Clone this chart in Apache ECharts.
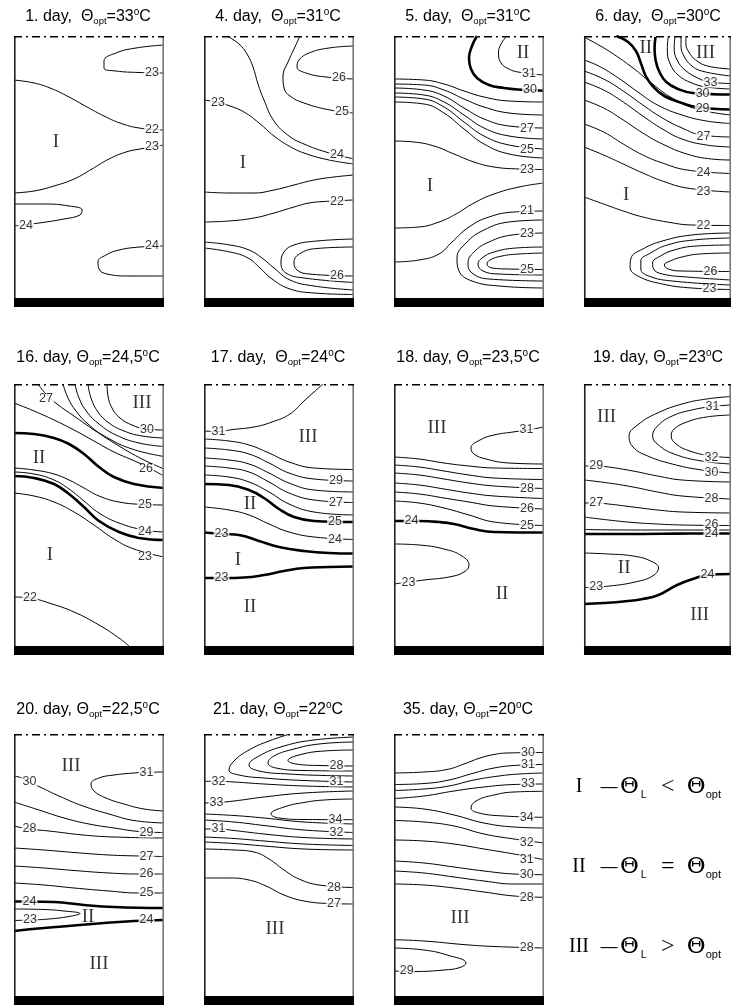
<!DOCTYPE html>
<html><head><meta charset="utf-8">
<script src="https://cdn.jsdelivr.net/npm/echarts@6/dist/echarts.min.js"></script>
<style>html,body{margin:0;padding:0;background:#fff}#c{width:731px;height:1006px}</style>
</head><body><div id="c"></div>
<script>
// ---------- data (panel coords: x 0..150 left->right, y 0..262 top->bottom) ----------
const panelDays = ['1','4','5','6','16','17','18','19','20','21','35'];
const panelOpt  = ['33','31','31','30','24,5','24','23,5','23','22,5','22','20'];
const titleGap  = ['  ','  ','  ','  ',' ','  ',' ',' ',' ',' ',' '];

// Day 1
const d1Thin = [
 [[150,9],[122,12],[102,17],[90,25],[90,32],[102,35],[125,36.5],[150,37]],
 [[0,44],[20,47],[36,52],[55,61],[73,71],[90,80],[106,87],[125,92],[150,94]],
 [[0,157],[20,155],[40,150],[60,143],[78,133],[95,123],[112,116],[126,113],[150,109]],
 [[0,168],[30,168],[55,170],[68,174],[66,179],[50,183],[25,187],[0,190]],
 [[150,210],[126,211],[105,214],[92,219],[84,226],[85,233],[93,238],[115,240],[150,240]]
];
const d1Thick = [];
const d1Labels = [[138,37,'23'],[138,93.5,'22'],[138,111,'23'],[12,189.5,'24'],[138,210,'24']];
const d1Zones = [[42,106,'I']];

// Day 4
const d4Thin = [
 [[96,0],[90,13],[84,26],[79,40],[80,52],[86,60],[100,67],[126,74],[150,77]],
 [[150,10],[125,12],[105,17],[95,24],[93,31],[102,37],[122,41],[150,43]],
 [[23,0],[35,8],[43,18],[49,31],[54,48],[60,64],[70,85],[85,100],[100,108],[122,116],[150,123]],
 [[0,64],[12,66],[26,70],[40,76],[55,87],[70,100],[85,110],[100,117],[125,124],[150,128]],
 [[0,156],[25,157],[50,157],[70,154],[90,149],[110,144],[130,141],[150,139]],
 [[0,186],[25,185],[50,182],[70,177],[90,171],[105,167],[120,165.5],[150,164]],
 [[0,206],[26,209],[45,214],[58,222],[70,232],[86,244],[110,250],[150,254]],
 [[0,212],[26,216],[44,222],[56,232],[68,243],[86,253],[110,257],[150,258.5]],
 [[150,203],[113,205],[90,209],[80,216],[77,227],[82,237],[100,242],[150,246.5]],
 [[150,211],[113,212.5],[97,217],[90,226],[93,234],[105,238],[150,240]]
];
const d4Thick = [];
const d4Labels = [[138,76,'25'],[135,42,'26'],[133,118.5,'24'],[14,66.5,'23'],[133,165.5,'22'],[133,239.5,'26']];
const d4Zones = [[39,127,'I']];

// Day 5
const d5Thin = [
 [[113,0],[107,8],[104.5,17],[107,27],[115,33],[124,36],[150,39]],
 [[0,43],[30,44],[50,48],[70,55],[90,61],[115,65],[150,66]],
 [[0,48],[30,49],[50,54],[70,63],[90,71],[115,77],[150,79]],
 [[0,52],[30,54],[50,60],[70,72],[90,83],[115,90],[150,92]],
 [[0,57],[30,59],[50,66],[70,79],[90,92],[115,100],[150,103]],
 [[0,61],[30,63],[50,71],[70,86],[90,100],[115,109],[150,113]],
 [[0,66],[30,68],[50,77],[70,93],[90,108],[115,118],[150,122]],
 [[0,105],[20,106],[40,110],[60,118],[80,126],[100,131],[125,133],[150,133.5]],
 [[0,192],[25,191],[45,186],[62,178],[80,167],[100,158],[125,151],[150,147]],
 [[0,226],[25,224],[45,218],[58,206],[75,191],[95,181],[120,176],[150,175]],
 [[150,184],[115,186],[90,194],[72,207],[63,222],[65,235],[78,245],[105,250],[150,252]],
 [[150,197],[118,199],[95,206],[80,216],[74,227],[78,237],[95,243],[150,245]],
 [[150,211],[122,212],[100,216],[88,222],[84,228],[89,235],[105,238],[150,239]],
 [[150,217],[125,218],[108,220],[96,224],[93,228],[98,232],[115,233],[150,233.5]]
];
const d5Thick = [
 [[83,0],[78,10],[75,22],[77,33],[83,42],[95,49],[110,52],[124,53.5],[150,54.7]]
];
const d5Labels = [[136,54,'30'],[135,38,'31'],[133,92.5,'27'],[133,113.5,'25'],[133,133.5,'23'],[133,175,'21'],[133,198,'23'],[133,233.5,'25']];
const d5Zones = [[129,17,'II'],[36,150,'I']];

// Day 6
const d6Thin = [
 [[86,0],[85,14],[88,28],[96,39],[110,47],[125,51],[150,53]],
 [[93,0],[92,12],[95,24],[103,34],[116,42],[128,46],[150,47.5]],
 [[99,0],[99,10],[102,20],[109,29],[120,35],[150,40]],
 [[104,0],[104,8],[107,16],[114,24],[126,30],[150,33]],
 [[0,1],[15,9],[30,18],[50,32],[70,48],[90,62],[115,73],[150,79]],
 [[0,24],[15,30],[35,42],[55,56],[75,69],[100,79],[125,85],[150,87.5]],
 [[0,35],[20,43],[40,55],[60,69],[80,82],[100,92],[120,99],[150,101]],
 [[0,46],[20,54],[40,66],[60,80],[80,93],[100,103],[125,109],[150,111]],
 [[0,64],[20,72],[40,84],[60,97],[80,108],[105,118],[130,123],[150,124]],
 [[0,88],[20,96],[40,108],[60,119],[80,127],[105,134],[150,137.5]],
 [[0,111],[20,119],[40,128],[60,137],[80,145],[105,152],[150,156]],
 [[0,161],[20,168],[40,175],[60,181],[85,186],[110,189],[150,189.5]],
 [[150,197],[110,199],[80,205],[60,213],[48,222],[47,231],[55,240],[80,248],[110,252],[150,253.5]],
 [[150,202],[112,204],[85,209],[68,217],[58,225],[58,233],[66,240],[90,245],[150,249]],
 [[150,209],[115,210],[92,214],[78,220],[70,227],[71,233],[80,238],[105,241],[150,244]],
 [[150,217],[118,218],[100,221],[88,225],[82,229],[86,233],[100,235],[150,235.5]]
];
const d6Thick = [
 [[33,0],[45,6],[53,15],[58,27],[63,40],[70,50],[82,60],[100,67],[115,71],[150,73.5]],
 [[73,1],[72,12],[73,24],[77,36],[84,46],[96,53],[111,57],[150,58.5]]
];
const d6Labels = [[129,46.5,'33'],[121,58,'30'],[121,72.5,'29'],[122,100.5,'27'],[122,137,'24'],[122,155.5,'23'],[122,189.5,'22'],[129,235.5,'26'],[128,253,'23']];
const d6Zones = [[63,12,'II'],[124,17,'III'],[43,159,'I']];

// Day 16
const d16Thin = [
 [[93,0],[94,12],[98,24],[106,34],[118,41],[132,45],[150,46]],
 [[74,0],[77,14],[84,28],[95,39],[110,47],[128,52],[150,54]],
 [[61,0],[65,14],[73,28],[85,40],[102,51],[125,59],[150,62.5]],
 [[49,0],[54,14],[62,27],[74,40],[92,53],[118,65],[150,72.5]],
 [[24,0],[32,10],[43,20],[60,32],[80,46],[105,62],[128,75],[150,85]],
 [[0,19],[20,27],[40,36],[60,46],[80,57],[100,68],[125,79],[150,92]],
 [[0,84],[20,86],[40,90],[55,96],[70,104],[85,112],[105,118],[130,120.5],[150,121]],
 [[0,88],[20,90],[40,96],[55,105],[70,117],[85,129],[105,139],[130,146],[150,148]],
 [[0,109],[20,112],[40,118],[60,128],[80,141],[100,155],[120,165],[150,173]],
 [[0,213],[16,214],[35,219],[60,228],[85,241],[105,254],[115,262]]
];
const d16Thick = [
 [[0,49],[20,50],[40,54],[55,60],[70,70],[85,83],[100,93],[120,100],[150,104]],
 [[0,92],[20,94],[40,100],[55,110],[70,123],[85,137],[105,148],[125,154],[150,156]]
];
const d16Labels = [[32,15,'27'],[133,45.5,'30'],[132,85,'26'],[131,120.5,'25'],[131,147.5,'24'],[131,172.5,'23'],[16,214,'22']];
const d16Zones = [[128,19,'III'],[25,74,'II'],[36,171,'I']];

// Day 17
const d17Thin = [
 [[0,47],[14,47.5],[29,45.5],[50,43],[68,38],[86,30],[100,17],[110,8],[119,0]],
 [[0,55],[25,57],[45,61],[65,69],[85,78],[110,84],[150,85.5]],
 [[0,64],[25,66],[45,70],[65,79],[85,89],[110,95],[150,97]],
 [[0,74],[25,76],[45,80],[65,89],[85,99],[110,106],[150,108]],
 [[0,82],[25,84],[45,88],[65,98],[85,109],[110,116],[150,118.5]],
 [[0,91],[25,93],[45,98],[65,108],[85,120],[110,128],[150,131]],
 [[0,123],[25,126],[45,131],[65,140],[85,148],[110,153],[150,155.5]]
];
const d17Thick = [
 [[0,100],[25,101],[45,106],[60,114],[75,125],[90,133],[110,137],[150,138]],
 [[0,148.5],[20,150],[35,151],[55,157],[75,163],[100,167],[125,169],[150,169.5]],
 [[0,194],[20,194],[40,193.5],[60,191],[80,187],[100,184],[125,183],[150,182.5]]
];
const d17Labels = [[14.5,47.5,'31'],[132,97,'29'],[132,118.5,'27'],[131,137.5,'25'],[131,155.5,'24'],[17.5,149.5,'23'],[17.5,194,'23']];
const d17Zones = [[104,53,'III'],[46,120,'II'],[34,176,'I'],[46,223,'II']];

// Day 18
const d18Thin = [
 [[150,43],[133,46],[119,48],[100,51],[86,56],[77,64],[80,70],[92,75],[115,79],[150,80]],
 [[0,73],[25,75],[50,79],[75,82],[100,84],[150,84.5]],
 [[0,81],[25,83],[50,87],[75,91],[100,94],[150,95.5]],
 [[0,89],[25,91],[50,95],[75,99],[100,102],[150,104.5]],
 [[0,99],[25,101],[50,105],[75,109],[100,112],[150,114.5]],
 [[0,108],[25,110],[50,114],[75,118],[100,122],[150,125]],
 [[0,117],[25,119],[50,124],[75,131],[100,138],[150,141.5]],
 [[0,160],[25,161],[50,165],[68,172],[75,181],[70,188],[55,193],[30,196],[0,200]]
];
const d18Thick = [
 [[0,137],[25,137],[45,138],[60,140],[80,145],[100,148],[150,148.5]]
];
const d18Labels = [[132.5,46,'31'],[133,104.5,'28'],[133,125,'26'],[133,141.5,'25'],[17.5,137,'24'],[14.5,199,'23']];
const d18Zones = [[43,44,'III'],[108,210,'II']];

// Day 19
const d19Thin = [
 [[150,12.5],[125,15],[100,20],[75,29],[56,40],[46,52],[50,63],[65,72],[90,80],[120,86],[150,89]],
 [[150,21],[131,22.5],[110,26],[90,32],[75,42],[70,52],[76,61],[92,70],[120,77],[150,80]],
 [[150,31],[125,33],[105,38],[92,45],[89,52],[94,60],[108,67],[130,72],[150,73.5]],
 [[0,82],[12,82],[25,83],[50,87],[75,92],[100,96],[150,98]],
 [[0,96],[25,99],[50,103],[75,108],[100,112],[150,115]],
 [[0,119],[12,119],[25,120],[50,123],[75,126],[100,128],[150,129]],
 [[0,133],[25,136],[50,138.5],[75,140],[100,141],[150,141.5]],
 [[0,145.5],[50,146],[100,146],[150,146]],
 [[0,169],[25,170],[50,172],[68,177],[76,184],[70,192],[52,198],[26,202],[0,203.5]]
];
const d19Thick = [
 [[0,150],[40,150],[80,149.8],[110,149.5],[150,149.5]],
 [[0,220],[20,219],[40,217.5],[60,215],[76,211],[95,201],[114,194],[126,191],[150,190]]
];
const d19Labels = [[131,22.5,'31'],[130,73.5,'32'],[130,89,'30'],[12.5,82,'29'],[130,114.5,'28'],[12.5,119,'27'],[130,141,'26'],[130,150,'24'],[12.5,203,'23'],[126,191,'24']];
const d19Zones = [[23,33,'III'],[41,184,'II'],[118,231,'III']];

// Day 20
const d20Thin = [
 [[150,38],[134,38.3],[120,39],[100,41],[85,44],[77,50],[80,57],[92,64],[110,70],[130,75],[150,77]],
 [[0,42],[8,44],[15,48],[26,53],[45,62],[69,72],[95,80],[120,86.5],[150,89]],
 [[0,68],[25,76],[50,84],[75,90],[100,94],[125,97.5],[150,98.5]],
 [[0,92],[15,95],[35,97],[69,101],[100,103],[150,104]],
 [[0,114],[30,116],[60,118.5],[95,121],[125,122],[150,122.5]],
 [[0,132],[30,134],[60,136.5],[95,139],[125,140],[150,140]],
 [[0,149],[30,151],[60,154],[95,157],[125,159],[150,159]],
 [[0,175],[30,175.5],[50,177],[66,179.5],[55,182.5],[35,185],[16,186],[0,186.5]]
];
const d20Thick = [
 [[0,167.5],[15,167.5],[40,168],[70,171],[100,173],[150,174]],
 [[0,197],[30,194],[60,191.5],[90,189],[120,187],[150,186]]
];
const d20Labels = [[15.5,48,'30'],[132.5,38.3,'31'],[132.5,98.5,'29'],[15.5,95,'28'],[132.5,122.5,'27'],[132.5,140,'26'],[132.5,159,'25'],[15.5,167.5,'24'],[16,186,'23'],[132.5,186,'24']];
const d20Zones = [[57,32,'III'],[74,183,'II'],[85,230,'III']];

// Day 21
const d21Thin = [
 [[86,0],[65,7],[45,16],[30,27],[25,36],[35,41],[60,44],[100,46.5],[150,48]],
 [[150,3],[110,6],[80,12],[55,22],[45,31],[55,37],[85,40],[120,41.5],[150,42]],
 [[150,8],[115,10],[90,15],[70,22],[64,29],[72,34],[100,36.5],[150,37]],
 [[150,16],[120,17],[95,21],[84,26.5],[92,30],[115,31.5],[150,32]],
 [[0,47.3],[14,47.3],[30,48],[60,50],[100,52],[150,53]],
 [[0,69],[14,68.5],[30,67],[60,63],[100,59],[150,57]],
 [[150,65],[120,66],[100,68.5],[80,73],[67,80],[75,84],[100,85.5],[150,85.7]],
 [[0,80],[30,81.5],[60,84],[100,88],[150,90]],
 [[0,86],[30,88],[60,91.5],[100,96],[150,98.5]],
 [[0,95],[14,95],[30,96.5],[60,100],[100,103.5],[150,105]],
 [[0,103],[30,104.5],[60,107],[100,110],[150,111.5]],
 [[0,108],[30,109.5],[60,112],[100,115],[150,116]],
 [[0,115],[30,116],[50,118],[65,125],[80,136],[95,145],[115,151],[150,153.5]],
 [[0,144],[25,144],[45,146],[62,152],[80,161],[100,167],[125,169.5],[150,170]]
];
const d21Thick = [];
const d21Labels = [[132.5,31.5,'28'],[132.5,47.5,'31'],[14.5,47.3,'32'],[12.5,69,'33'],[131.5,85.7,'34'],[132.5,98.5,'32'],[14.5,95,'31'],[130,153.5,'28'],[130,170,'27']];
const d21Zones = [[71,195,'III']];

// Day 35
const d35Thin = [
 [[0,39],[30,38],[53,35.5],[70,30],[86,24],[100,20.5],[113,19],[150,18.5]],
 [[0,50.5],[30,49.5],[55,46],[80,39],[100,34],[120,31.5],[150,30.5]],
 [[0,56.5],[30,55],[55,52],[80,46],[105,42],[125,40],[150,39]],
 [[0,64.5],[30,62],[60,57],[90,53],[120,50.5],[150,50]],
 [[150,57.3],[120,58],[100,61],[82,67],[77,74],[85,79],[110,82],[150,83.3]],
 [[0,73],[30,75],[60,81],[90,89],[120,93],[150,94]],
 [[0,86.5],[30,88],[60,92],[90,100],[120,105],[150,109]],
 [[0,106],[30,107],[60,110],[90,115],[120,120],[150,125.7]],
 [[0,127],[30,129],[60,133],[90,137],[120,140],[150,140.7]],
 [[0,137],[30,139],[60,143],[90,147],[120,150],[150,150]],
 [[0,150],[30,151],[60,154],[90,158],[120,162],[150,163.3]],
 [[0,205.7],[30,207],[69,210.5],[100,212.5],[150,214]],
 [[0,214],[30,216],[53,221],[72,229],[66,233.5],[50,236],[20,237.5],[0,237]]
];
const d35Thick = [];
const d35Labels = [[134,18.5,'30'],[134,30.5,'31'],[134,50,'33'],[132.7,83.3,'34'],[132.7,109,'32'],[132.7,125.7,'31'],[132.7,140.7,'30'],[132.7,163.3,'28'],[132.7,214,'28'],[12.7,237,'29']];
const d35Zones = [[66,184,'III']];

const zoneLegend = [['I','<'],['II','='],['III','>']];

// ---------- layout ----------
const panelLeft = [14,204,394,584,14,204,394,584,14,204,394];
const panelTop  = [36,36,36,36,384,384,384,384,734,734,734];
const titleY    = [17,17,17,17,358,358,358,358,710,710,710];
const PW = 150, PH = 262, BAR = 9;

const panels = [
 [d1Thin,d1Thick,d1Labels,d1Zones],[d4Thin,d4Thick,d4Labels,d4Zones],
 [d5Thin,d5Thick,d5Labels,d5Zones],[d6Thin,d6Thick,d6Labels,d6Zones],
 [d16Thin,d16Thick,d16Labels,d16Zones],[d17Thin,d17Thick,d17Labels,d17Zones],
 [d18Thin,d18Thick,d18Labels,d18Zones],[d19Thin,d19Thick,d19Labels,d19Zones],
 [d20Thin,d20Thick,d20Labels,d20Zones],[d21Thin,d21Thick,d21Labels,d21Zones],
 [d35Thin,d35Thick,d35Labels,d35Zones]
];

const SANS = 'Liberation Sans, Arial, sans-serif';
const SERIF = 'Liberation Serif, Times New Roman, serif';
const grid=[], xAxis=[], yAxis=[], series=[], graphic=[];

panels.forEach((p,i)=>{
  const [thin,thick,labels,zones] = p;
  grid.push({left:panelLeft[i], top:panelTop[i], width:PW, height:PH+BAR});
  xAxis.push({type:'value', gridIndex:i, min:0, max:PW, show:false});
  yAxis.push({type:'value', gridIndex:i, min:0, max:PH+BAR, inverse:true, show:false});
  const base = {xAxisIndex:i, yAxisIndex:i, silent:true, animation:false};
  const line = (data,w,color,type,smooth,z)=>({type:'line',...base,data,symbol:'none',showSymbol:false,smooth,
     lineStyle:{color,width:w,type,cap:'butt'},z:z||2});
  thin.forEach(c=>series.push(line(c,1,'#000','solid',0.45)));
  thick.forEach(c=>series.push(line(c,2.6,'#000','solid',0.45)));
  series.push(line([[0,PH+BAR/2],[PW,PH+BAR/2]],BAR,'#000','solid',false,3));
  series.push(line([[0.8,0],[0.8,PH]],1.6,'#222','solid',false,3));
  series.push(line([[PW-0.8,0],[PW-0.8,PH]],1.6,'#777','solid',false,3));
  series.push(line([[0,0.8],[PW,0.8]],1.6,'#000',[8,4,2,4],false,3));
  series.push({type:'scatter',...base,symbol:'circle',symbolSize:1,itemStyle:{color:'rgba(0,0,0,0)'},z:6,
    data:labels.map(l=>({value:[l[0],l[1]],name:l[2]})),
    label:{show:true,position:'inside',formatter:'{b}',fontFamily:SANS,fontSize:12.5,color:'#000',
      backgroundColor:'#fff',padding:[0,1,0,1],lineHeight:10}});
  series.push({type:'scatter',...base,symbol:'circle',symbolSize:1,itemStyle:{color:'rgba(0,0,0,0)'},z:6,
    data:zones.map(l=>({value:[l[0],l[1]],name:l[2]})),
    label:{show:true,position:'inside',formatter:'{b}',fontFamily:SERIF,fontSize:19,color:'#000'}});
  // title
  graphic.push({type:'text', x:panelLeft[i]+PW/2-1, y:titleY[i], silent:true,
    style:{text:'{t|'+panelDays[i]+'. day,'+titleGap[i]+'Θ}{s|opt}{t|='+panelOpt[i]+'}{p|o}{t|C}',
      align:'center', verticalAlign:'middle', fill:'#000',
      rich:{t:{fontFamily:SANS,fontSize:16,lineHeight:19,fill:'#000'},
            s:{fontFamily:SANS,fontSize:9.5,lineHeight:10,verticalAlign:'bottom',fill:'#000'},
            p:{fontFamily:SANS,fontSize:10,lineHeight:10,verticalAlign:'top',fill:'#000'}}}});
});

const legendY = [787, 867, 947];
zoneLegend.forEach((z,k)=>{
  graphic.push({type:'text', x:560, y:legendY[k], silent:true,
    style:{text:'{r|'+z[0]+'}{d|—}{th|Θ}{s|L}{op|'+z[1]+'}{th|Θ}{s2|opt}',
      align:'left', verticalAlign:'middle', fill:'#000',
      rich:{r:{fontFamily:SERIF,fontSize:20,lineHeight:26,width:38,align:'right',fill:'#000'},
            d:{fontFamily:SANS,fontSize:17,lineHeight:26,width:22,align:'center',fill:'#000'},
            th:{fontFamily:'DejaVu Serif',fontSize:23,lineHeight:26,fill:'#000'},
            s:{fontFamily:SANS,fontSize:11,lineHeight:12,width:10,verticalAlign:'bottom',fill:'#000'},
            op:{fontFamily:SERIF,fontSize:24,lineHeight:26,width:38,align:'center',fill:'#000'},
            s2:{fontFamily:SANS,fontSize:11,lineHeight:12,verticalAlign:'bottom',fill:'#000'}}}});
});

const chart = echarts.init(document.getElementById('c'), null, {renderer:'canvas'});
chart.setOption({backgroundColor:'#fff', animation:false, grid, xAxis, yAxis, series, graphic});
</script></body></html>
